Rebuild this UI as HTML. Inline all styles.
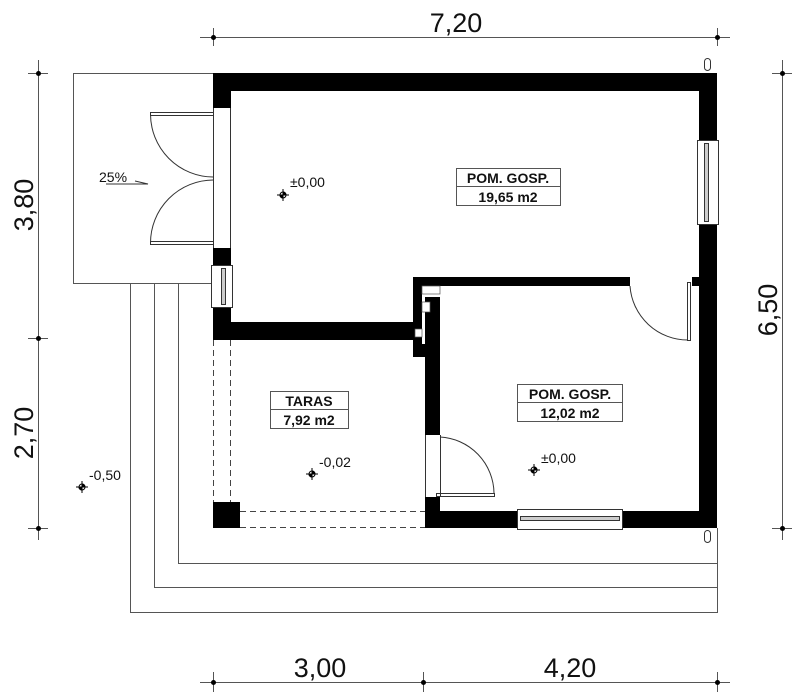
<!DOCTYPE html>
<html><head><meta charset="utf-8"><style>
html,body{margin:0;padding:0;background:#fff;}
svg{display:block;font-family:"Liberation Sans",Arial,sans-serif;}
</style></head><body>
<svg width="800" height="696" viewBox="0 0 800 696" xmlns="http://www.w3.org/2000/svg">
<rect width="800" height="696" fill="#fff"/>
<g stroke="#555" stroke-width="1" fill="none">
<rect x="73.5" y="73.5" width="140" height="210"/>
<path d="M130.5 283 V612.5 H717.5 V528"/>
<path d="M154.5 283 V587.5 H717.5"/>
<path d="M178.5 283 V563.5 H717.5"/>
</g>
<g stroke="#444" stroke-width="1" stroke-dasharray="6,4" fill="none">
<path d="M213.5 340 V502"/><path d="M230.5 340 V502"/>
<path d="M240 511.5 H425"/><path d="M240 527.5 H425"/>
</g>
<g fill="#000">
<rect x="213" y="73" width="504" height="18"/>
<rect x="699" y="73" width="18" height="455"/>
<rect x="213" y="73" width="18" height="35"/>
<rect x="213" y="248" width="18" height="17"/>
<rect x="213" y="308" width="18" height="32"/>
<rect x="213" y="322" width="202" height="18"/>
<rect x="413" y="277" width="217" height="9"/>
<rect x="692" y="277" width="7" height="9"/>
<rect x="413" y="277" width="9" height="80"/>
<rect x="413" y="344" width="27" height="13"/>
<rect x="425" y="297" width="15" height="138"/>
<rect x="425" y="497" width="15" height="31"/>
<rect x="425" y="511" width="92" height="17"/>
<rect x="622" y="511" width="95" height="17"/>
<rect x="213" y="502" width="27" height="26"/>
</g>
<g fill="#fff" stroke="#555" stroke-width="0.7">
<rect x="422" y="286" width="18" height="8"/>
<rect x="422" y="302" width="8" height="10"/>
<rect x="415" y="329" width="7" height="8"/>
</g>
<g stroke="#333" stroke-width="1" fill="#fff">
<rect x="211.5" y="265.5" width="21" height="42"/>
<rect x="221.5" y="268.5" width="4" height="36" fill="#ccc"/>
<rect x="697.5" y="140.5" width="21" height="84"/>
<rect x="704.5" y="143.5" width="4" height="78" fill="#ccc"/>
<rect x="517.5" y="509.5" width="105" height="20"/>
<rect x="520.5" y="516.5" width="99" height="4" fill="#ccc"/>
</g>
<g stroke="#333" stroke-width="1" fill="none">
<path d="M213.5 108 V248 M230.5 108 V248"/>
<rect x="150.5" y="112.5" width="63" height="3"/>
<rect x="150.5" y="241.5" width="63" height="3"/>
<path d="M150.5 114 A63 63 0 0 0 213 177"/>
<path d="M150.5 243 A63 63 0 0 1 213 180"/>
<path d="M630 286 A58 58 0 0 0 688 340"/>
<rect x="687.5" y="282.5" width="3" height="58"/>
<path d="M425.5 435 V497 M440.5 435 V497"/>
<rect x="436.5" y="493.5" width="58" height="3"/>
<path d="M440 437 A57 57 0 0 1 494 493"/>
<rect x="704.5" y="58.5" width="6" height="12" rx="3"/>
<rect x="704.5" y="530.5" width="6" height="12" rx="3"/>
</g>
<g stroke="#555" stroke-width="1">
<path d="M200 37.5 H730 M213.5 28 V46 M717.5 28 V46"/>
<path d="M38.5 60 V540 M28 73.5 H48 M28 338.5 H48 M28 528.5 H48"/>
<path d="M782.5 60 V540 M772 73.5 H792 M772 528.5 H792"/>
<path d="M200 682.5 H730 M213.5 672 V692 M423.5 672 V692 M717.5 672 V692"/>
</g>
<g fill="#000">
<circle cx="213.5" cy="37.5" r="2.5"/><circle cx="717.5" cy="37.5" r="2.5"/>
<circle cx="38.5" cy="73.5" r="2.5"/><circle cx="38.5" cy="338.5" r="2.5"/><circle cx="38.5" cy="528.5" r="2.5"/>
<circle cx="782.5" cy="73.5" r="2.5"/><circle cx="782.5" cy="528.5" r="2.5"/>
<circle cx="213.5" cy="682.5" r="2.5"/><circle cx="423.5" cy="682.5" r="2.5"/><circle cx="717.5" cy="682.5" r="2.5"/>
</g>
<g font-size="27" fill="#111" text-anchor="middle">
<text x="456" y="32">7,20</text>
<text x="320" y="677">3,00</text>
<text x="570" y="677">4,20</text>
<text transform="translate(33,205) rotate(-90)">3,80</text>
<text transform="translate(33,433) rotate(-90)">2,70</text>
<text transform="translate(777,310) rotate(-90)">6,50</text>
</g>
<g stroke="#555" stroke-width="1" fill="#fff">
<rect x="456.5" y="168.5" width="104" height="37"/><path d="M456 186.5 H560"/>
<rect x="270.5" y="391.5" width="78" height="37"/><path d="M270 409.5 H348"/>
<rect x="517.5" y="384.5" width="105" height="37"/><path d="M517 402.5 H622"/>
</g>
<g font-size="14" font-weight="bold" fill="#111" text-anchor="middle">
<text x="508" y="183">POM. GOSP.</text><text x="508" y="202">19,65 m2</text>
<text x="309" y="406">TARAS</text><text x="309" y="425">7,92 m2</text>
<text x="570" y="399">POM. GOSP.</text><text x="570" y="418">12,02 m2</text>
</g>
<g stroke="#000" stroke-width="1" fill="#fff">
<g transform="translate(283,195)"><path d="M-6 0H6M0 -6V6"/><circle r="3"/><path d="M0 0V-3A3 3 0 0 1 3 0Z M0 0V3A3 3 0 0 1 -3 0Z" fill="#000"/></g>
<g transform="translate(312,474)"><path d="M-6 0H6M0 -6V6"/><circle r="3"/><path d="M0 0V-3A3 3 0 0 1 3 0Z M0 0V3A3 3 0 0 1 -3 0Z" fill="#000"/></g>
<g transform="translate(534,470)"><path d="M-6 0H6M0 -6V6"/><circle r="3"/><path d="M0 0V-3A3 3 0 0 1 3 0Z M0 0V3A3 3 0 0 1 -3 0Z" fill="#000"/></g>
<g transform="translate(82,487)"><path d="M-6 0H6M0 -6V6"/><circle r="3"/><path d="M0 0V-3A3 3 0 0 1 3 0Z M0 0V3A3 3 0 0 1 -3 0Z" fill="#000"/></g>
</g>
<g font-size="14" fill="#111">
<text x="290" y="187">±0,00</text>
<text x="319" y="467">-0,02</text>
<text x="541" y="463">±0,00</text>
<text x="89" y="480">-0,50</text>
<text x="99" y="182">25%</text>
</g>
<path d="M106 184 H128 L148 184 L135 181" stroke="#333" fill="none"/>
</svg>
</body></html>
